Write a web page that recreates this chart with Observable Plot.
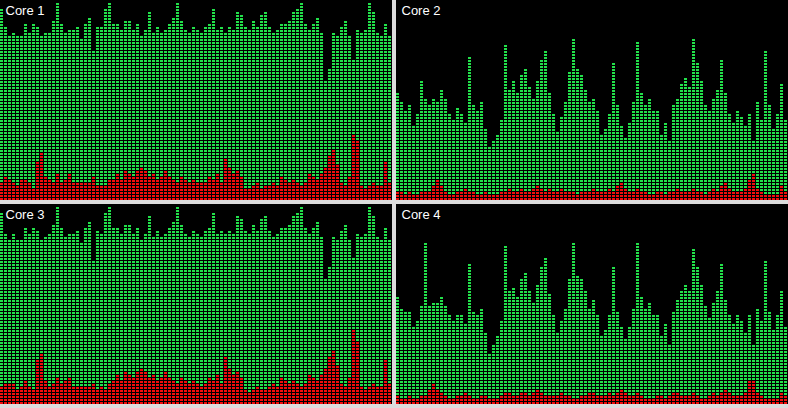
<!DOCTYPE html>
<html><head><meta charset="utf-8">
<script src="https://cdn.jsdelivr.net/npm/d3@7"></script>
<script src="https://cdn.jsdelivr.net/npm/@observablehq/plot@0.6"></script>
<style>
body{margin:0;background:#dcdcdc;}
#grid{display:grid;grid-template-columns:392px 392px;grid-template-rows:200px 200px;gap:4px;width:788px;height:408px;background:#dcdcdc;}
#grid svg{display:block;background:#000;}
</style></head><body><div id="grid"></div>
<script>
const coreNames = ["Core 1", "Core 2", "Core 3", "Core 4"];
const seriesNames = ["user", "system"];

// total load (%) per sample, and system share (%) per sample
const core1Total = [97,88,84,85,84,83,89,85,89,88,83,85,85,91,100,89,85,86,86,88,82,89,92,75,88,88,97,100,89,89,86,91,91,86,89,83,86,95,85,88,85,86,89,92,100,91,86,85,88,86,85,88,89,97,86,88,85,88,86,95,94,88,86,91,88,94,95,88,85,86,89,89,91,95,97,100,89,86,89,92,85,61,67,85,83,88,91,83,71,86,85,86,100,95,85,83,89,83];
const core1System = [9,12,11,9,8,11,11,9,6,20,24,12,11,9,14,9,11,14,9,9,9,9,9,12,8,8,8,11,11,14,11,15,14,12,15,17,15,12,14,11,12,15,12,11,9,12,11,9,11,9,9,9,12,11,14,9,21,17,14,15,12,6,6,8,9,6,8,8,9,8,12,11,9,11,9,8,9,14,12,11,14,17,23,26,18,9,8,12,33,30,8,6,8,9,8,8,20,9];

const core2Total = [54,50,46,48,38,44,61,51,48,52,50,56,51,44,41,47,44,40,72,48,45,50,36,27,30,34,41,79,56,60,54,64,67,57,52,61,71,75,55,44,35,42,50,65,82,66,64,56,50,52,45,34,37,44,70,48,38,32,39,50,80,55,48,52,45,46,34,40,30,48,52,59,62,58,82,70,61,49,45,52,56,71,54,44,40,46,42,38,44,30,50,41,75,48,37,44,59,41];
const core2System = [5,5,3,5,3,3,5,5,5,8,11,8,5,3,3,5,5,6,5,5,3,3,5,3,3,3,5,5,6,5,5,6,5,5,6,8,6,5,6,5,5,6,5,5,5,3,5,5,5,6,5,5,5,6,5,8,9,6,5,5,6,5,5,3,3,5,5,3,5,5,6,5,5,5,6,5,5,3,5,6,5,8,9,6,5,5,5,6,11,14,6,5,3,3,3,3,8,5];

const core3Total = [97,87,84,86,84,83,89,86,89,88,83,85,86,91,100,89,85,86,87,88,82,89,92,72,88,87,97,100,89,90,86,91,91,86,89,84,86,95,85,88,85,86,89,92,100,91,86,85,88,86,85,88,89,97,86,88,86,88,86,95,94,88,86,91,88,94,95,88,85,86,89,89,91,95,97,100,89,86,89,92,85,64,70,85,83,88,91,83,74,86,85,86,100,95,85,83,89,83];
const core3System = [9,11,11,11,8,9,12,9,8,23,26,12,9,11,14,11,12,14,9,9,9,9,9,11,8,9,8,11,12,15,12,17,15,14,17,18,17,14,15,12,14,17,14,12,11,14,12,11,12,11,9,11,14,12,15,11,24,18,15,17,14,8,6,8,9,8,8,9,11,9,14,12,11,12,11,9,11,15,14,12,15,18,24,27,20,11,9,14,38,32,9,8,9,11,9,9,23,11];

const core4Total = [55,49,47,47,40,43,50,82,50,51,52,55,50,45,42,46,45,41,71,47,46,49,37,26,31,35,42,80,57,59,55,63,66,58,51,60,70,74,56,45,36,43,49,64,82,65,63,57,49,53,46,35,38,45,70,47,39,33,40,49,82,54,49,51,46,45,35,41,31,47,53,58,61,57,79,69,60,50,44,51,57,71,53,45,41,45,43,37,45,31,49,42,73,47,38,45,58,40];
const core4System = [5,3,3,5,3,3,5,5,8,11,8,6,5,3,3,5,5,6,5,3,3,5,5,3,3,3,5,6,6,5,5,6,6,5,6,8,6,5,5,5,5,6,5,5,3,3,5,5,6,6,5,5,5,6,5,6,8,6,5,5,6,5,3,3,3,5,5,3,5,6,6,5,5,5,6,5,3,3,5,6,5,6,8,6,5,5,5,6,12,12,6,5,3,3,3,3,6,5];

const totals = [core1Total, core2Total, core3Total, core4Total];
const systems = [core1System, core2System, core3System, core4System];

const ROWS = 66; // LED segments per column

function panel(name, total, system) {
  const cells = [];
  total.forEach((t, i) => {
    const n = Math.round(t / 100 * ROWS);
    const r = Math.round(system[i] / 100 * ROWS);
    for (let k = 0; k < n; k++) cells.push({col: i, row: k, kind: k < r ? "system" : "user"});
  });
  return Plot.plot({
    width: 392, height: 200, margin: 0,
    x: {domain: [0, total.length], axis: null},
    y: {domain: [0, 200 / 3], axis: null},
    color: {domain: seriesNames, range: ["#22e04a", "#f20c0c"]},
    style: {background: "#000", fontFamily: "'Liberation Sans', Arial, sans-serif"},
    marks: [
      Plot.rect(cells, {x1: "col", x2: d => d.col + 1, y1: "row", y2: d => d.row + 1, fill: "kind", insetRight: 1, insetTop: 1, shapeRendering: "crispEdges"}),
      Plot.text([name], {frameAnchor: "top-left", dx: 5, dy: 5, text: d => d, fill: "white", fontSize: 13})
    ]
  });
}

const grid = document.getElementById("grid");
coreNames.forEach((name, i) => grid.appendChild(panel(name, totals[i], systems[i])));
</script>
</body></html>
